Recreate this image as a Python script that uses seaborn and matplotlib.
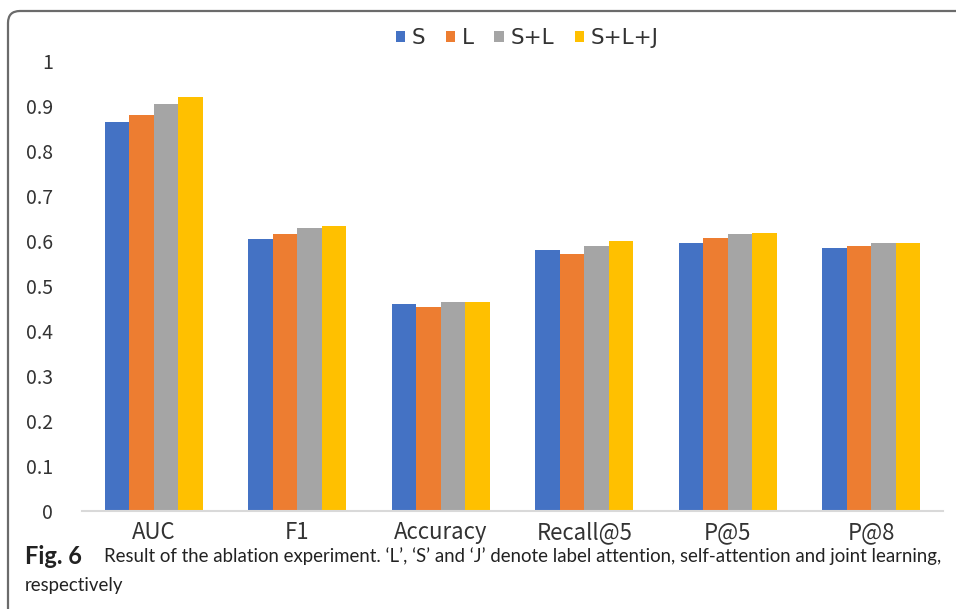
import matplotlib
matplotlib.use("Agg")
import matplotlib.pyplot as plt
from matplotlib.patches import PathPatch
from matplotlib.path import Path
import seaborn as sns
import pandas as pd

metrics = ["AUC", "F1", "Accuracy", "Recall@5", "P@5", "P@8"]
variants = ["S", "L", "S+L", "S+L+J"]
s_vals = [0.865, 0.604, 0.460, 0.581, 0.596, 0.585]
l_vals = [0.880, 0.615, 0.453, 0.571, 0.607, 0.590]
sl_vals = [0.904, 0.629, 0.464, 0.589, 0.615, 0.596]
slj_vals = [0.919, 0.633, 0.464, 0.600, 0.618, 0.596]
y_ticks = [0, 0.1, 0.2, 0.3, 0.4, 0.5, 0.6, 0.7, 0.8, 0.9, 1]
palette = ["#4472C4", "#ED7D31", "#A5A5A5", "#FFC000"]

rows = []
for name, vals in zip(variants, [s_vals, l_vals, sl_vals, slj_vals]):
    for m, v in zip(metrics, vals):
        rows.append({"metric": m, "variant": name, "value": v})
df = pd.DataFrame(rows)

sns.set_theme(style="white")
plt.rcParams["font.family"] = ["Noto Sans CJK SC", "DejaVu Sans"]

W, H = 956, 609
fig = plt.figure(figsize=(W / 100, H / 100), dpi=100)
ax = fig.add_axes([82 / W, 1 - 511 / H, (943 - 82) / W, 450 / H])

sns.barplot(data=df, x="metric", y="value", hue="variant", order=metrics,
            hue_order=variants, palette=palette, width=0.68, saturation=1,
            linewidth=0, ax=ax)

ax.set_ylim(0, 1)
ax.set_yticks(y_ticks)
ax.set_yticklabels([f"{t:g}" for t in y_ticks], fontsize=14, color="#333333")
ax.tick_params(axis="x", labelsize=16, colors="#333333", pad=7, length=0)
ax.tick_params(axis="y", pad=21, length=0)
ax.set_xlabel("")
ax.set_ylabel("")
for side in ["top", "right", "left"]:
    ax.spines[side].set_visible(False)
ax.spines["bottom"].set_color("#D9D9D9")
ax.spines["bottom"].set_linewidth(1.5)
ax.set_xlim(-0.5, 5.5)

leg = ax.legend(loc="center", bbox_to_anchor=(0.517, 1 + 23 / 450), ncol=4,
                frameon=False, handlelength=0.45, handleheight=0.45,
                handletextpad=0.3, columnspacing=0.95, borderaxespad=0,
                prop={"family": ["DejaVu Sans"], "size": 15.5})
for t in leg.get_texts():
    t.set_color("#333333")

# rounded panel frame (pixel coordinates, open to the right and bottom)
x0, ytop, r = 8, H - 11, 12
verts = [(x0, -20), (x0, ytop - r), (x0, ytop), (x0 + r, ytop), (W + 20, ytop)]
codes = [Path.MOVETO, Path.LINETO, Path.CURVE3, Path.CURVE3, Path.LINETO]
frame = PathPatch(Path(verts, codes), transform=None, fill=False,
                  edgecolor="#6b6b6b", linewidth=1.6, clip_on=False)
fig.patches.append(frame)

cap_font = ["Lato", "DejaVu Sans"]
fig.text(25 / W, 1 - 556 / H, "Fig. 6", fontsize=17, fontweight="bold",
         family=cap_font, va="center", color="#222222")
fig.text(104 / W, 1 - 556 / H,
         "Result of the ablation experiment. \u2018L\u2019, \u2018S\u2019 and \u2018J\u2019 denote label attention, self-attention and joint learning,",
         fontsize=13.4, family=cap_font, va="center", color="#222222")
fig.text(25 / W, 1 - 586 / H, "respectively", fontsize=13.4,
         family=cap_font, va="center", color="#222222")

fig.savefig("out.png", dpi=100)
